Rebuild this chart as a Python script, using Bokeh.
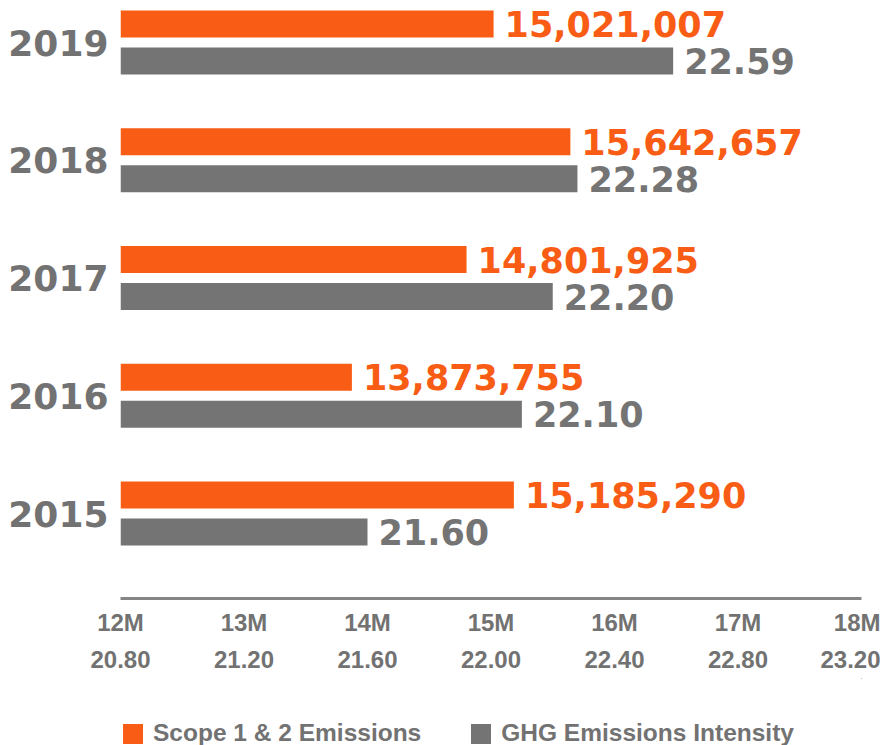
from bokeh.plotting import figure
from bokeh.layouts import column
from bokeh.models import (Range1d, LinearAxis, FixedTicker, Legend, LegendItem,
                          ColumnDataSource)
from bokeh.core.properties import value
from bokeh.embed import file_html
from bokeh.resources import INLINE

# ---- data ----
years = [2019, 2018, 2017, 2016, 2015]
year_labels = ["2019", "2018", "2017", "2016", "2015"]
scope12_emissions = [15021007, 15642657, 14801925, 13873755, 15185290]
ghg_intensity = [22.59, 22.28, 22.20, 22.10, 21.60]
emission_ticks_m = [12, 13, 14, 15, 16, 17, 18]
emission_tick_labels = ["12M", "13M", "14M", "15M", "16M", "17M", "18M"]
intensity_ticks = [20.80, 21.20, 21.60, 22.00, 22.40, 22.80, 23.20]
intensity_tick_labels = ["20.80", "21.20", "21.60", "22.00", "22.40", "22.80", "23.20"]
series_names = ["Scope 1 & 2 Emissions", "GHG Emissions Intensity"]

ORANGE = "#F95D15"
GREY = "#747474"
TXT_GREY = "#727272"

# ---- layout constants ----
px_per_year = 117.75
off = 18.5 / px_per_year
bar_h = 27 / px_per_year

src = ColumnDataSource(dict(
    y_o=[y + off for y in years],
    y_g=[y - off for y in years],
    em=[v / 1e6 for v in scope12_emissions],
    gi=ghg_intensity,
    em_lbl=[f"{v:,}" for v in scope12_emissions],
    gi_lbl=[f"{v:.2f}" for v in ghg_intensity],
))

top_val = years[0] + 34 / px_per_year
bot_val = top_val - 590 / px_per_year

p = figure(width=880, height=678, output_backend="svg", toolbar_location=None,
           x_range=Range1d(emission_ticks_m[0], emission_ticks_m[-1]),
           y_range=Range1d(bot_val, top_val),
           min_border_left=120, min_border_right=19, min_border_top=8,
           min_border_bottom=80, x_axis_type=None, y_axis_type=None)
p.extra_x_ranges = {"intensity": Range1d(intensity_ticks[0], intensity_ticks[-1])}
p.outline_line_color = None
p.grid.visible = False

r_o = p.hbar(y="y_o", left=emission_ticks_m[0], right="em", height=bar_h,
             color=ORANGE, line_color=None, source=src)
r_g = p.hbar(y="y_g", left=intensity_ticks[0], right="gi", height=bar_h,
             color=GREY, line_color=None, source=src, x_range_name="intensity")

p.text(x="em", y="y_o", text="em_lbl", source=src, x_offset=11,
       text_baseline="middle", text_align="left",
       text_font=value("DejaVu Sans"), text_font_style="bold",
       text_font_size="35px", text_color=ORANGE)
p.text(x="gi", y="y_g", text="gi_lbl", source=src, x_offset=11,
       text_baseline="middle", text_align="left", x_range_name="intensity",
       text_font=value("DejaVu Sans"), text_font_style="bold",
       text_font_size="35px", text_color=GREY)

# y axis with year labels
yax = LinearAxis(ticker=FixedTicker(ticks=years),
                 major_label_overrides={y: l for y, l in zip(years, year_labels)})
yax.axis_line_color = None
yax.major_tick_line_color = None
yax.minor_tick_line_color = None
yax.major_label_standoff = 6
yax.major_label_text_font = "DejaVu Sans"
yax.major_label_text_font_style = "bold"
yax.major_label_text_font_size = "36px"
yax.major_label_text_color = TXT_GREY
p.add_layout(yax, "left")

# x axis 1 (emissions)
xax1 = LinearAxis(ticker=FixedTicker(ticks=emission_ticks_m),
                  major_label_overrides={t: l for t, l in zip(emission_ticks_m, emission_tick_labels)})
xax1.axis_line_color = "#858585"
xax1.axis_line_width = 3
xax1.major_tick_line_color = None
xax1.minor_tick_line_color = None
xax1.major_label_standoff = 4
xax1.major_label_text_font = "Liberation Sans"
xax1.major_label_text_font_style = "bold"
xax1.major_label_text_font_size = "24px"
xax1.major_label_text_color = TXT_GREY
p.add_layout(xax1, "below")

# x axis 2 (intensity)
xax2 = LinearAxis(x_range_name="intensity", ticker=FixedTicker(ticks=intensity_ticks),
                  major_label_overrides={t: l for t, l in zip(intensity_ticks, intensity_tick_labels)})
xax2.axis_line_color = None
xax2.major_tick_line_color = None
xax2.minor_tick_line_color = None
xax2.major_label_standoff = 6
xax2.major_label_text_font = "Liberation Sans"
xax2.major_label_text_font_style = "bold"
xax2.major_label_text_font_size = "24px"
xax2.major_label_text_color = TXT_GREY
p.add_layout(xax2, "below")

# ---- legend strip (bars here fall outside its view; only the legend shows) ----
p2 = figure(width=880, height=67, output_backend="svg", toolbar_location=None,
            x_range=Range1d(0, 1), y_range=Range1d(0, 1),
            min_border_left=117, min_border_right=0, min_border_top=0,
            min_border_bottom=0, x_axis_type=None, y_axis_type=None)
p2.outline_line_color = None
p2.grid.visible = False
k_o = p2.hbar(y="y_o", left=emission_ticks_m[0], right="em", height=bar_h,
              color=ORANGE, line_color=None, source=src)
k_g = p2.hbar(y="y_g", left=intensity_ticks[0], right="gi", height=bar_h,
              color=GREY, line_color=None, source=src)

legend = Legend(items=[LegendItem(label=series_names[0], renderers=[k_o]),
                       LegendItem(label=series_names[1], renderers=[k_g])],
                orientation="horizontal", location=(0, -2))
legend.margin = 0
legend.padding = 0
legend.border_line_color = None
legend.background_fill_alpha = 0
legend.glyph_width = 25
legend.glyph_height = 25
legend.label_standoff = 8
legend.spacing = 47
legend.label_text_font = "Liberation Sans"
legend.label_text_font_style = "bold"
legend.label_text_font_size = "24.5px"
legend.label_text_color = TXT_GREY
p2.add_layout(legend, "center")

layout = column(p, p2, spacing=0)
open("out.html", "w").write(file_html(layout, INLINE))
